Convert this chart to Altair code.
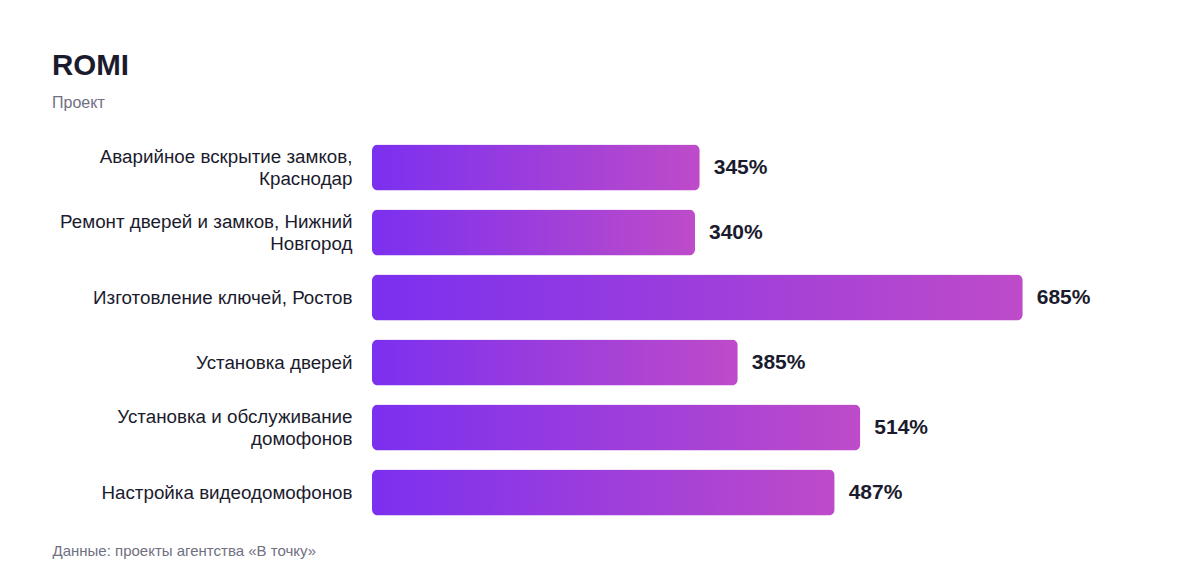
import altair as alt
import pandas as pd

TITLE = "ROMI"
SUBTITLE = "Проект"
SOURCE = "Данные: проекты агентства «В точку»"

projects = [
    "Аварийное вскрытие замков,|Краснодар",
    "Ремонт дверей и замков, Нижний|Новгород",
    "Изготовление ключей, Ростов",
    "Установка дверей",
    "Установка и обслуживание|домофонов",
    "Настройка видеодомофонов",
]
romi = [345, 340, 685, 385, 514, 487]

TEXT_DARK = "#1b1b2e"
TEXT_GRAY = "#70707f"
FONT = "Liberation Sans"


def main() -> None:
    df = pd.DataFrame({"Project": projects, "ROMI": romi})
    df["Label"] = df["ROMI"].map(lambda v: f"{v}%")

    gradient = alt.Gradient(
        gradient="linear",
        stops=[
            alt.GradientStop(color="#7b30ef", offset=0),
            alt.GradientStop(color="#be4bc9", offset=1),
        ],
        x1=0,
        x2=1,
        y1=0,
        y2=0,
    )

    y = alt.Y(
        "Project:N",
        sort=None,
        scale=alt.Scale(paddingInner=0.29, paddingOuter=0.145),
        axis=alt.Axis(
            title=None,
            ticks=False,
            domain=False,
            labelPadding=20,
            labelFontSize=18.8,
            labelColor=TEXT_DARK,
            labelFont=FONT,
            labelLimit=400,
            labelLineHeight=22,
            labelExpr="split(datum.label, '|')",
            # two-line labels are centred on their bar
            labelOffset={
                "condition": {"test": "indexof(datum.label, '|') >= 0", "value": -11},
                "value": 0,
            },
        ),
    )
    x = alt.X(
        "ROMI:Q",
        scale=alt.Scale(domain=[0, 760]),
        axis=alt.Axis(
            labels=False,
            ticks=False,
            domain=False,
            grid=False,
            title=SOURCE,
            titleAnchor="start",
            titleAlign="left",
            titleX=-320,
            titleY=18,
            titleFontSize=15,
            titleFontWeight="normal",
            titleColor=TEXT_GRAY,
            titleFont=FONT,
        ),
    )

    base = alt.Chart(df)
    bars = base.mark_bar(cornerRadius=6, color=gradient).encode(x=x, y=y)
    values = base.mark_text(
        align="left",
        baseline="middle",
        dx=14,
        fontSize=21,
        fontWeight="bold",
        font=FONT,
        color=TEXT_DARK,
    ).encode(x=x, y=y, text="Label:N")

    chart = (
        alt.layer(bars, values)
        .properties(
            width=722,
            height=390,
            autosize=alt.AutoSizeParams(type="none"),
            padding={"left": 364, "top": 127, "right": 90, "bottom": 50},
            title=alt.TitleParams(
                text=TITLE,
                subtitle=SUBTITLE,
                anchor="start",
                frame="group",
                dx=-320,
                fontSize=29.5,
                fontWeight="bold",
                font=FONT,
                color=TEXT_DARK,
                subtitleFontSize=16,
                subtitleFont=FONT,
                subtitleColor=TEXT_GRAY,
                subtitlePadding=14,
                offset=23,
            ),
        )
        .configure(background="white")
        .configure_view(strokeWidth=0)
    )
    chart.save("out.html", embed_options={"renderer": "svg", "actions": False})


if __name__ == "__main__":
    main()
